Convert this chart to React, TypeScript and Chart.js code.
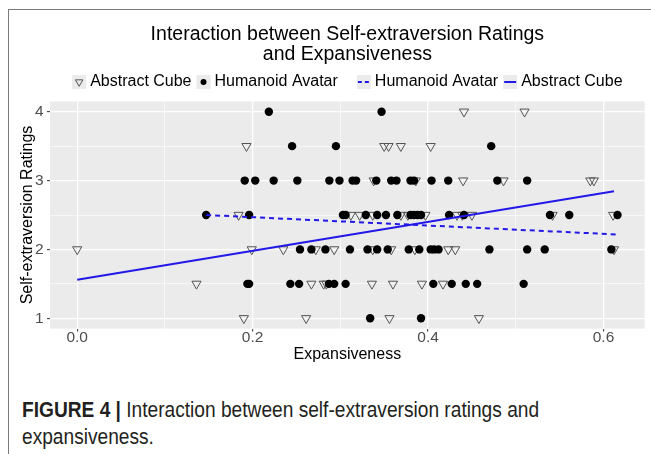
import React, { useEffect, useRef } from 'react';
import { Chart, registerables } from 'chart.js';

Chart.register(...registerables);

const FONT = '"Liberation Sans", Arial, Helvetica, sans-serif';
const CAPTION_FONT = '"Liberation Sans", Arial, sans-serif';
const LINE_BLUE = 'rgb(34, 24, 232)';

const titleLines = ['Interaction between Self-extraversion Ratings', 'and Expansiveness'];
const xTitle = 'Expansiveness';
const yTitle = 'Self-extraversion Ratings';

// axis ranges (ggplot default 5% expansion) and tick values
const xRange = [-0.031, 0.647];
const yRange = [0.85, 4.15];
const xTicks = [0, 0.1, 0.2, 0.3, 0.4, 0.5, 0.6];
const yTicks = [1, 1.5, 2, 2.5, 3, 3.5, 4];

// Abstract Cube (open triangles)
const cubeExpansiveness = [
  0.441, 0.51,
  0.193, 0.35, 0.355, 0.369, 0.403,
  0.338, 0.386, 0.44, 0.486, 0.585, 0.589,
  0.184, 0.312, 0.322, 0.337, 0.369, 0.377, 0.397, 0.433, 0.439, 0.45, 0.542, 0.611,
  0.0, 0.199, 0.235, 0.272, 0.293, 0.337, 0.358, 0.385, 0.423, 0.431, 0.612,
  0.136, 0.267, 0.281, 0.284, 0.336, 0.36, 0.393, 0.417,
  0.19, 0.261, 0.356, 0.458,
];
const cubeRatings = [
  4, 4,
  3.5, 3.5, 3.5, 3.5, 3.5,
  3, 3, 3, 3, 3, 3,
  2.5, 2.5, 2.5, 2.5, 2.5, 2.5, 2.5, 2.5, 2.5, 2.5, 2.5, 2.5,
  2, 2, 2, 2, 2, 2, 2, 2, 2, 2, 2,
  1.5, 1.5, 1.5, 1.5, 1.5, 1.5, 1.5, 1.5,
  1, 1, 1, 1,
];

// Humanoid Avatar (filled circles)
const avatarExpansiveness = [
  0.2185, 0.347,
  0.245, 0.295, 0.472,
  0.191, 0.203, 0.224, 0.251, 0.2875, 0.299, 0.314, 0.318, 0.341, 0.358, 0.364, 0.38, 0.384, 0.404, 0.423, 0.479, 0.513,
  0.147, 0.196, 0.303, 0.306, 0.329, 0.342, 0.352, 0.365, 0.38, 0.384, 0.388, 0.392, 0.424, 0.441, 0.539, 0.561, 0.616,
  0.254, 0.267, 0.283, 0.311, 0.331, 0.342, 0.354, 0.378, 0.39, 0.403, 0.407, 0.412, 0.47, 0.513, 0.533, 0.609,
  0.194, 0.196, 0.243, 0.253, 0.287, 0.293, 0.306, 0.406, 0.427, 0.443, 0.456, 0.509,
  0.334, 0.392,
];
const avatarRatings = [
  4, 4,
  3.5, 3.5, 3.5,
  3, 3, 3, 3, 3, 3, 3, 3, 3, 3, 3, 3, 3, 3, 3, 3, 3,
  2.5, 2.5, 2.5, 2.5, 2.5, 2.5, 2.5, 2.5, 2.5, 2.5, 2.5, 2.5, 2.5, 2.5, 2.5, 2.5, 2.5,
  2, 2, 2, 2, 2, 2, 2, 2, 2, 2, 2, 2, 2, 2, 2, 2,
  1.5, 1.5, 1.5, 1.5, 1.5, 1.5, 1.5, 1.5, 1.5, 1.5, 1.5, 1.5,
  1, 1,
];

// fitted regression lines (end points)
const avatarFitX = [0.147, 0.616];
const avatarFitY = [2.5, 2.217];
const cubeFitX = [0.0, 0.612];
const cubeFitY = [1.561, 2.845];

const toPoints = (xs: number[], ys: number[]) => xs.map((x, i) => ({ x, y: ys[i] }));

const panelBackground = {
  id: 'panelBackground',
  beforeDraw(chart: any) {
    const { ctx, chartArea: a } = chart;
    ctx.save();
    ctx.fillStyle = '#ebebeb';
    ctx.fillRect(a.left, a.top, a.right - a.left, a.bottom - a.top);
    ctx.restore();
  },
};

const ggLegend = {
  id: 'ggLegend',
  afterDraw(chart: any) {
    const { ctx, chartArea: a } = chart;
    const ds = chart.data.datasets;
    const entries = [
      { label: ds[0].label, key: 'tri' },
      { label: ds[1].label, key: 'dot' },
      { label: ds[2].label, key: 'dash' },
      { label: ds[3].label, key: 'solid' },
    ];
    const KEY = 14, KEY_GAP = 4, ITEM_GAP = 5, GROUP_GAP = 19;
    const cy = 82;
    ctx.save();
    ctx.font = `16px ${FONT}`;
    const widths = entries.map((e) => ctx.measureText(e.label).width);
    let total = 0;
    widths.forEach((w, i) => {
      total += KEY + KEY_GAP + w;
      if (i < widths.length - 1) total += i === 1 ? GROUP_GAP : ITEM_GAP;
    });
    let x = (a.left + a.right) / 2 - total / 2;
    entries.forEach((e, i) => {
      ctx.fillStyle = '#ebebeb';
      ctx.fillRect(x, cy - KEY / 2, KEY, KEY);
      const kx = x + KEY / 2;
      if (e.key === 'tri') {
        const r = 4.3;
        ctx.beginPath();
        ctx.moveTo(kx - r * 0.866, cy - r / 2);
        ctx.lineTo(kx + r * 0.866, cy - r / 2);
        ctx.lineTo(kx, cy + r);
        ctx.closePath();
        ctx.strokeStyle = '#555';
        ctx.lineWidth = 1;
        ctx.stroke();
      } else if (e.key === 'dot') {
        ctx.beginPath();
        ctx.arc(kx, cy, 3, 0, Math.PI * 2);
        ctx.fillStyle = '#000';
        ctx.fill();
      } else {
        ctx.beginPath();
        ctx.strokeStyle = LINE_BLUE;
        ctx.lineWidth = 2;
        ctx.setLineDash(e.key === 'dash' ? [4, 3] : []);
        ctx.moveTo(x + 1, cy);
        ctx.lineTo(x + KEY - 1, cy);
        ctx.stroke();
        ctx.setLineDash([]);
      }
      ctx.fillStyle = '#000';
      ctx.textAlign = 'left';
      ctx.textBaseline = 'middle';
      ctx.fillText(e.label, x + KEY + KEY_GAP, cy);
      x += KEY + KEY_GAP + widths[i] + (i === 1 ? GROUP_GAP : ITEM_GAP);
    });
    ctx.restore();
  },
};

export default function App() {
  const canvasRef = useRef<HTMLCanvasElement | null>(null);

  useEffect(() => {
    if (!canvasRef.current) return;
    const major = (c: any) => c.index % 2 === 0;
    const chart = new Chart(canvasRef.current, {
      type: 'scatter',
      data: {
        datasets: [
          {
            label: 'Abstract Cube',
            data: toPoints(cubeExpansiveness, cubeRatings),
            pointStyle: 'triangle',
            rotation: 180,
            radius: 5.3,
            backgroundColor: 'rgba(0,0,0,0)',
            borderColor: '#555',
            borderWidth: 1,
            order: 3,
          },
          {
            label: 'Humanoid Avatar',
            data: toPoints(avatarExpansiveness, avatarRatings),
            pointStyle: 'circle',
            radius: 4.2,
            backgroundColor: '#000',
            borderColor: '#000',
            borderWidth: 0,
            order: 2,
          },
          {
            label: 'Humanoid Avatar',
            data: toPoints(avatarFitX, avatarFitY),
            showLine: true,
            borderColor: LINE_BLUE,
            borderWidth: 2,
            borderDash: [5, 4],
            pointRadius: 0,
            order: 1,
          },
          {
            label: 'Abstract Cube',
            data: toPoints(cubeFitX, cubeFitY),
            showLine: true,
            borderColor: LINE_BLUE,
            borderWidth: 2,
            pointRadius: 0,
            order: 1,
          },
        ],
      } as any,
      options: {
        animation: false,
        responsive: false,
        events: [],
        layout: { padding: { left: 0, right: 4, top: 0, bottom: 0 } },
        plugins: {
          legend: { display: false },
          tooltip: { enabled: false },
          title: {
            display: true,
            text: titleLines,
            fullSize: false,
            color: '#000',
            font: { family: FONT, size: 19.5, weight: 'normal', lineHeight: 20 / 19.5 },
            padding: { top: 25, bottom: 36.4 },
          },
        },
        scales: {
          x: {
            type: 'linear',
            min: xRange[0],
            max: xRange[1],
            afterBuildTicks: (s: any) => {
              s.ticks = xTicks.map((v) => ({ value: v }));
            },
            afterFit: (s: any) => {
              s.height = 51.4;
            },
            border: { display: false },
            grid: {
              color: '#ffffff',
              lineWidth: (c: any) => (major(c) ? 1.3 : 0.6),
              tickColor: (c: any) => (major(c) ? '#333333' : 'rgba(0,0,0,0)'),
              tickLength: 3,
              tickWidth: 1,
            },
            ticks: {
              autoSkip: false,
              maxRotation: 0,
              padding: -2,
              color: '#4d4d4d',
              font: { family: FONT, size: 15.5, lineHeight: 1 },
              callback: (v: any, i: number) => (i % 2 === 0 ? Number(v).toFixed(1) : ''),
            },
            title: {
              display: true,
              text: xTitle,
              color: '#000',
              font: { family: FONT, size: 16 },
              padding: { top: 0, bottom: 15.4 },
            },
          },
          y: {
            type: 'linear',
            min: yRange[0],
            max: yRange[1],
            afterBuildTicks: (s: any) => {
              s.ticks = yTicks.map((v) => ({ value: v }));
            },
            afterFit: (s: any) => {
              s.width = 50;
            },
            border: { display: false },
            grid: {
              color: '#ffffff',
              lineWidth: (c: any) => (major(c) ? 1.3 : 0.6),
              tickColor: (c: any) => (major(c) ? '#333333' : 'rgba(0,0,0,0)'),
              tickLength: 3,
              tickWidth: 1,
            },
            ticks: {
              autoSkip: false,
              padding: 3.5,
              color: '#4d4d4d',
              font: { family: FONT, size: 15.5 },
              callback: (v: any, i: number) => (i % 2 === 0 ? String(v) : ''),
            },
            title: {
              display: true,
              text: yTitle,
              color: '#000',
              font: { family: FONT, size: 16 },
              padding: { top: 18, bottom: 0 },
            },
          },
        },
      } as any,
      plugins: [panelBackground, ggLegend],
    });
    return () => chart.destroy();
  }, []);

  return (
    <div style={{ position: 'absolute', left: 0, top: 0, width: 651, height: 454, background: '#fff', overflow: 'hidden' }}>
      <div
        style={{
          position: 'absolute',
          left: 8,
          top: 9,
          right: 0,
          bottom: 0,
          borderTop: '1px solid #7a7a7a',
          borderLeft: '1px solid #7a7a7a',
        }}
      />
      <canvas ref={canvasRef} width={651} height={380} style={{ position: 'absolute', left: 0, top: 0 }} />
      <div
        style={{
          position: 'absolute',
          left: 22,
          top: 396,
          fontFamily: CAPTION_FONT,
          fontSize: 22,
          lineHeight: '27px',
          color: '#231f20',
          whiteSpace: 'nowrap',
          transform: 'scaleX(0.87)',
          transformOrigin: '0 0',
        }}
      >
        <span style={{ fontWeight: 'bold' }}>FIGURE 4 |</span> Interaction between self-extraversion ratings and
        <br />
        expansiveness.
      </div>
    </div>
  );
}
